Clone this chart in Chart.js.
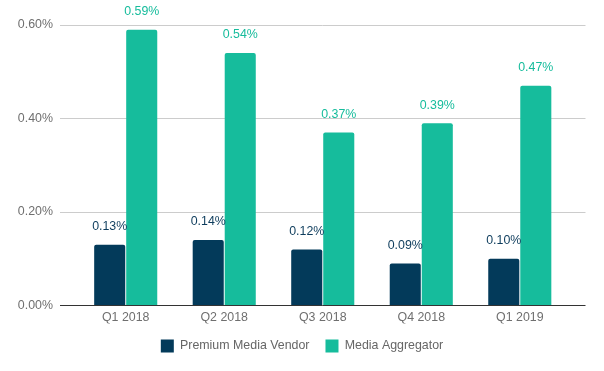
<!DOCTYPE html>
<html>
<head>
<meta charset="utf-8">
<script src="https://cdn.jsdelivr.net/npm/chart.js@4/dist/chart.umd.min.js"></script>
<style>
html,body{margin:0;padding:0;background:#fff;}
#wrap{width:604px;height:371px;}
</style>
</head>
<body>
<div id="wrap"><canvas id="c" width="604" height="371"></canvas></div>
<script>
const categories = ['Q1 2018', 'Q2 2018', 'Q3 2018', 'Q4 2018', 'Q1 2019'];
const premiumMediaVendor = [0.13, 0.14, 0.12, 0.09, 0.10];
const mediaAggregator = [0.59, 0.54, 0.37, 0.39, 0.47];
const yTicks = [0, 0.2, 0.4, 0.6];

const DARK = '#033a5a';
const GREEN = '#16bc9c';
const FS = 12.4;

Chart.defaults.font.family = '"Liberation Sans", Arial, sans-serif';
Chart.defaults.font.size = FS;
Chart.defaults.color = '#666';

const labelPlugin = {
  id: 'barLabels',
  afterDatasetsDraw(chart) {
    const ctx = chart.ctx;
    ctx.save();
    ctx.font = FS + 'px "Liberation Sans", Arial, sans-serif';
    ctx.textAlign = 'center';
    ctx.textBaseline = 'middle';
    chart.data.datasets.forEach((ds, di) => {
      const meta = chart.getDatasetMeta(di);
      ctx.fillStyle = ds.labelColor;
      meta.data.forEach((el, i) => {
        const v = ds.data[i].y;
        ctx.fillText(v.toFixed(2) + '%', el.x, el.y - 18);
      });
    });
    ctx.restore();
  }
};

const toPoints = arr => arr.map((v, i) => ({x: i, y: v}));

new Chart(document.getElementById('c'), {
  type: 'bar',
  data: {
    datasets: [
      {label: 'Premium Media Vendor', data: toPoints(premiumMediaVendor), backgroundColor: DARK, labelColor: '#0d3c5c',
       borderRadius: {topLeft: 2, topRight: 2}, borderSkipped: 'bottom', categoryPercentage: 0.65, barPercentage: 0.97},
      {label: 'Media Aggregator', data: toPoints(mediaAggregator), backgroundColor: GREEN, labelColor: GREEN,
       borderRadius: {topLeft: 2, topRight: 2}, borderSkipped: 'bottom', categoryPercentage: 0.65, barPercentage: 0.97}
    ]
  },
  options: {
    responsive: false,
    animation: false,
    layout: {padding: {top: 25, right: 0, bottom: 8.5, left: 0}},
    plugins: {
      tooltip: {enabled: false},
      legend: {
        position: 'bottom',
        labels: {boxWidth: 13, boxHeight: 13, padding: 16, color: '#666', font: {size: FS}}
      }
    },
    scales: {
      x: {
        type: 'linear',
        min: -0.667,
        max: 4.667,
        offset: false,
        grid: {display: false, drawTicks: false},
        border: {display: false},
        afterBuildTicks: s => { s.ticks = categories.map((_, i) => ({value: i})); },
        afterFit: s => { s.height = 18; },
        ticks: {padding: 5, color: '#6f6f6f', callback: v => categories[v]}
      },
      y: {
        min: 0,
        max: 0.6,
        afterBuildTicks: s => { s.ticks = yTicks.map(v => ({value: v})); },
        afterFit: s => { s.width = 60; },
        grid: {drawTicks: false, color: c => (c.tick && c.tick.value === 0 ? '#333' : '#ccc')},
        border: {display: false},
        ticks: {padding: 7, color: '#6f6f6f', callback: v => v.toFixed(2) + '%'}
      },
      yRight: {
        position: 'right',
        min: 0,
        max: 0.6,
        grid: {display: false, drawTicks: false},
        border: {display: false},
        ticks: {display: false},
        afterFit: s => { s.width = 18.5; }
      }
    }
  },
  plugins: [labelPlugin]
});
</script>
</body>
</html>
